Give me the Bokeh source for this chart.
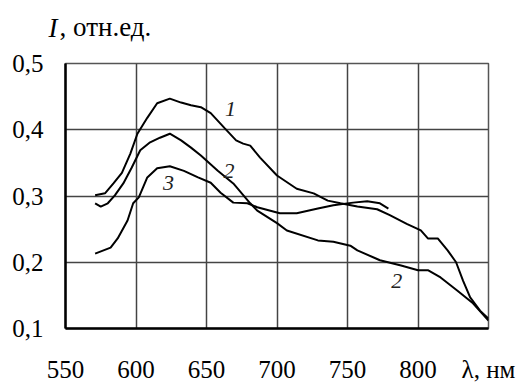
from bokeh.plotting import figure
from bokeh.models import Range1d, FixedTicker, Label
from bokeh.embed import file_html
from bokeh.resources import INLINE

# ---- data ----
wl1 = [571, 578, 584, 590, 596, 601, 608, 615, 624, 632, 639, 646, 653, 663, 671, 676,
       681, 688, 700, 714, 726, 736, 745, 757, 771, 780, 792, 802, 807, 814, 821, 827,
       832, 837, 844, 850]
i1 = [0.301, 0.304, 0.319, 0.335, 0.364, 0.394, 0.418, 0.440, 0.447, 0.441, 0.437, 0.434,
      0.425, 0.402, 0.384, 0.379, 0.376, 0.358, 0.331, 0.311, 0.304, 0.293, 0.289, 0.284,
      0.280, 0.271, 0.258, 0.248, 0.236, 0.236, 0.218, 0.200, 0.172, 0.147, 0.127, 0.115]

wl2 = [571, 575, 580, 585, 591, 597, 603, 610, 617, 624, 632, 639, 646, 658, 669, 681,
       686, 700, 707, 729, 740, 752, 757, 773, 788, 800, 807, 816, 828, 839, 850]
i2 = [0.289, 0.284, 0.289, 0.301, 0.319, 0.343, 0.369, 0.381, 0.388, 0.394, 0.384, 0.373,
      0.361, 0.338, 0.319, 0.289, 0.278, 0.259, 0.248, 0.233, 0.231, 0.225, 0.218, 0.203,
      0.195, 0.188, 0.188, 0.177, 0.157, 0.138, 0.112]

wl3 = [571, 582, 587, 594, 598, 602, 608, 615, 624, 634, 644, 653, 660, 669, 679, 686,
       702, 714, 729, 740, 754, 764, 773, 779]
i3 = [0.213, 0.222, 0.236, 0.263, 0.289, 0.298, 0.328, 0.342, 0.345, 0.338, 0.328, 0.320,
      0.305, 0.290, 0.289, 0.283, 0.274, 0.274, 0.281, 0.286, 0.290, 0.292, 0.289, 0.281]

x_ticks = [550, 600, 650, 700, 750, 800, 850]
x_labels = ["550", "600", "650", "700", "750", "800", "λ, нм"]
y_ticks = [0.1, 0.2, 0.3, 0.4, 0.5]
y_labels = ["0,1", "0,2", "0,3", "0,4", "0,5"]

curve_labels = ["1", "2", "3", "2"]
curve_label_x = [667, 666, 623, 785]
curve_label_y = [0.432, 0.338, 0.319, 0.172]

FONT = "Liberation Serif"

p = figure(width=522, height=385, output_backend="svg", toolbar_location=None, title=None,
           x_range=Range1d(550, 850), y_range=Range1d(0.1, 0.5),
           min_border_left=65, min_border_right=34, min_border_top=63, min_border_bottom=57)

for wl, ii in [(wl1, i1), (wl2, i2), (wl3, i3)]:
    p.line(wl, ii, line_color="black", line_width=2)

p.xaxis.ticker = FixedTicker(ticks=x_ticks)
p.yaxis.ticker = FixedTicker(ticks=y_ticks)
p.xaxis.major_label_overrides = {t: l for t, l in zip(x_ticks, x_labels)}
p.yaxis.major_label_overrides = {t: l for t, l in zip(y_ticks, y_labels)}

for ax in (p.xaxis, p.yaxis):
    ax.major_tick_line_color = None
    ax.minor_tick_line_color = None
    ax.major_tick_out = 0
    ax.major_tick_in = 0
    ax.axis_line_color = "black"
    ax.axis_line_width = 2.5
    ax.major_label_text_font = FONT
    ax.major_label_text_font_size = "25px"
    ax.major_label_text_color = "black"
p.xaxis.major_label_standoff = 27
p.yaxis.major_label_standoff = 22

p.xgrid.grid_line_color = "#444444"
p.ygrid.grid_line_color = "#444444"
p.xgrid.grid_line_width = 1.5
p.ygrid.grid_line_width = 1.5
p.outline_line_color = "#555555"
p.outline_line_width = 1.5
p.background_fill_color = "white"
p.border_fill_color = "white"

# axis title above the frame: italic "I" followed by ", отн.ед."
p.add_layout(Label(x=-17, y=36, x_units="screen", y_units="screen", text="I",
                   text_font=FONT, text_font_size="27px", text_font_style="italic",
                   text_baseline="middle", text_color="black"), "above")
p.add_layout(Label(x=-6, y=7, x_units="screen", y_units="screen", text=", отн.ед.",
                   text_font=FONT, text_font_size="27px", text_font_style="normal",
                   text_baseline="middle", text_color="black"), "above")

for t, lx, ly in zip(curve_labels, curve_label_x, curve_label_y):
    p.add_layout(Label(x=lx, y=ly, text=t, text_font=FONT, text_font_size="22px",
                       text_font_style="italic", text_align="center", text_baseline="middle",
                       text_color="#222222"))

open("out.html", "w").write(file_html(p, INLINE))
